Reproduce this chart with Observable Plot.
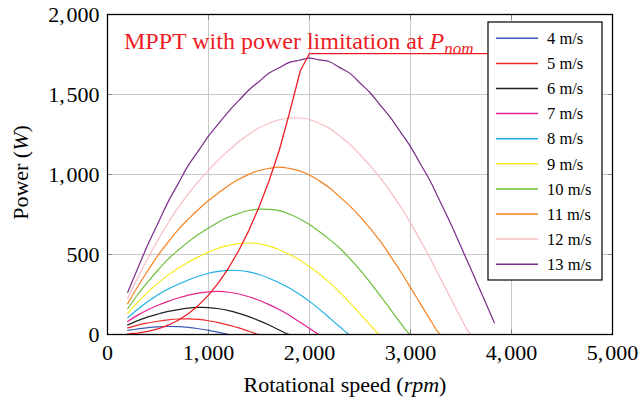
<!DOCTYPE html>
<html><head><meta charset="utf-8">
<script src="https://cdn.jsdelivr.net/npm/d3@7"></script>
<script src="https://cdn.jsdelivr.net/npm/@observablehq/plot@0.6"></script>
<style>html,body{margin:0;padding:0;background:#fff} #chart svg{display:block}</style>
</head><body><div id="chart"></div>
<script>
// Rotational speed grid (rpm)
const rpm = [200,300,400,500,600,700,800,900,1000,1100,
             1200,1300,1400,1500,1600,1700,1800,1900,2000,2100,
             2200,2300,2400,2500,2600,2700,2800,2900,3000,3100,
             3200,3300,3400,3500,3600,3700,3800,3830];

const speeds = ["4 m/s","5 m/s","6 m/s","7 m/s","8 m/s","9 m/s","10 m/s","11 m/s","12 m/s","13 m/s"];

// Power (W) for each wind speed
const p4 = [26,35,43,48,50,49,44,36,26,13,
            0,0,0,0,0,0,0,0,0,0,
            0,0,0,0,0,0,0,0,0,0,
            0,0,0,0,0,0,0,0];
const p5 = [41,59,72,83,92,97,98,94,86,74,
            59,41,20,0,0,0,0,0,0,0,
            0,0,0,0,0,0,0,0,0,0,
            0,0,0,0,0,0,0,0];
const p6 = [60,87,110,128,144,156,165,169,168,161,
            149,132,112,87,59,28,0,0,0,0,
            0,0,0,0,0,0,0,0,0,0,
            0,0,0,0,0,0,0,0];
const p7 = [81,121,155,183,207,228,246,259,267,269,
            264,253,236,214,187,156,120,79,38,0,
            0,0,0,0,0,0,0,0,0,0,
            0,0,0,0,0,0,0,0];
const p8 = [105,158,206,249,284,314,341,364,383,395,
            401,400,391,375,352,323,290,251,207,157,
            103,48,0,0,0,0,0,0,0,0,
            0,0,0,0,0,0,0,0];
const p9 = [132,202,265,321,371,414,452,485,515,540,
            557,568,572,567,552,530,501,465,423,377,
            324,263,198,129,60,0,0,0,0,0,
            0,0,0,0,0,0,0,0];
const p10 = [161,250,329,403,471,527,579,625,665,703,
             734,757,775,783,782,774,753,724,688,642,
             593,539,474,404,326,243,158,73,0,0,
             0,0,0,0,0,0,0,0];
const p11 = [193,300,400,495,578,656,721,781,837,886,
             932,970,1001,1025,1038,1046,1038,1023,997,959,
             916,860,802,737,663,584,491,395,293,190,
             87,0,0,0,0,0,0,0];
const p12 = [227,355,478,591,697,794,879,957,1026,1093,
             1150,1206,1250,1292,1320,1342,1353,1353,1344,1319,
             1288,1240,1189,1123,1056,978,895,800,698,586,
             469,347,225,102,0,0,0,0];
const p13 = [264,414,563,696,829,943,1057,1148,1240,1318,
             1395,1462,1528,1581,1634,1667,1701,1714,1727,1716,
             1705,1668,1632,1572,1511,1434,1357,1266,1174,1064,
             953,822,691,548,406,262,117,74];

// MPPT trajectory with power limitation at P_nom
const mpptRpm   = [200,300,400,500,600,700,800,900,1000,1100,1200,1300,1400,1500,1600,1700,1800,1910,2000,3830];
const mpptPower = [3,9,19,35,58,89,130,182,246,324,417,525,651,796,961,1150,1380,1650,1756,1756];

const xTicks = [0,1000,2000,3000,4000,5000];
const yTicks = [0,500,1000,1500,2000];

const colors = ["#3a5cb8","#ee2a2a","#222222","#e6228f","#1fb0e6","#f5ea1c","#6cbf3c","#f58220","#f8bcbf","#7b2b8a"];
const mpptColor = "#ee1c25";

const series = [p4,p5,p6,p7,p8,p9,p10,p11,p12,p13];
const rows = series.flatMap((p, i) => rpm.map((r, j) => ({speed: speeds[i], rpm: r, power: p[j]})));
const mppt = mpptRpm.map((r, i) => ({rpm: r, power: mpptPower[i]}));

const font = "'Liberation Serif','Times New Roman',serif";
const fmt = v => d3.format(",")(v).replace(",", ",\u200A");

const chart = Plot.plot({
  width: 642, height: 409,
  marginLeft: 107, marginRight: 30, marginTop: 14, marginBottom: 75,
  style: {fontFamily: font, fontSize: "22px", color: "#000", background: "#fff"},
  x: {domain: [0, 5000]},
  y: {domain: [0, 2000]},
  color: {domain: speeds, range: colors},
  marks: [
    Plot.gridX(xTicks, {stroke: "#c8c8c8", strokeOpacity: 1, strokeWidth: 1}),
    Plot.gridY(yTicks, {stroke: "#c8c8c8", strokeOpacity: 1, strokeWidth: 1}),
    Plot.axisX(xTicks, {anchor: "bottom", tickSize: -5, fill: "none", stroke: "#888", label: null}),
    Plot.axisX(xTicks, {anchor: "top", tickSize: -5, fill: "none", stroke: "#888", label: null}),
    Plot.axisY(yTicks, {anchor: "left", tickSize: -5, fill: "none", stroke: "#888", label: null}),
    Plot.axisY(yTicks, {anchor: "right", tickSize: -5, fill: "none", stroke: "#888", label: null}),
    Plot.line(rows, {x: "rpm", y: "power", z: "speed", stroke: "speed", strokeWidth: 1.2, curve: "catmull-rom", clip: "frame"}),
    Plot.line(mppt, {x: "rpm", y: "power", stroke: mpptColor, strokeWidth: 1.3}),
    Plot.axisX(xTicks, {anchor: "bottom", tickSize: 0, tickPadding: 10, tickFormat: fmt, label: null}),
    Plot.axisY(yTicks, {anchor: "left", tickSize: 0, tickPadding: 8, tickFormat: fmt, label: null}),
    Plot.frame({stroke: "#000", strokeWidth: 1.3})
  ]
});
document.getElementById("chart").appendChild(chart);

const svg = d3.select(chart);

// Axis labels
const xl = svg.append("text").attr("x", 345).attr("y", 392).attr("text-anchor", "middle")
  .attr("font-family", font).attr("font-size", 22).attr("fill", "#000");
xl.append("tspan").text("Rotational speed (");
xl.append("tspan").attr("font-style", "italic").text("rpm");
xl.append("tspan").text(")");

const yl = svg.append("text").attr("transform", "translate(28,172.5) rotate(-90)").attr("text-anchor", "middle")
  .attr("font-family", font).attr("font-size", 22).attr("fill", "#000");
yl.append("tspan").text("Power (");
yl.append("tspan").attr("font-style", "italic").text("W");
yl.append("tspan").text(")");

// Annotation
const an = svg.append("text").attr("x", 124).attr("y", 49).attr("text-anchor", "start")
  .attr("font-family", font).attr("font-size", 24).attr("fill", mpptColor);
an.append("tspan").text("MPPT with power limitation at ");
an.append("tspan").attr("font-style", "italic").text("P");
an.append("tspan").attr("font-style", "italic").attr("font-size", 17).attr("dy", 5).text("nom");

// Legend
const lg = svg.append("g");
lg.append("rect").attr("x", 488).attr("y", 22).attr("width", 114).attr("height", 258)
  .attr("fill", "#fff").attr("stroke", "#000").attr("stroke-width", 1.2);
speeds.forEach((s, i) => {
  const y = 38.3 + 25.1 * i;
  lg.append("line").attr("x1", 496).attr("x2", 538).attr("y1", y).attr("y2", y)
    .attr("stroke", colors[i]).attr("stroke-width", 1.5);
  lg.append("text").attr("x", 547).attr("y", y).attr("dy", "0.35em").attr("text-anchor", "start")
    .attr("font-family", font).attr("font-size", 16.5).attr("fill", "#000").text(s);
});
</script>
</body></html>
